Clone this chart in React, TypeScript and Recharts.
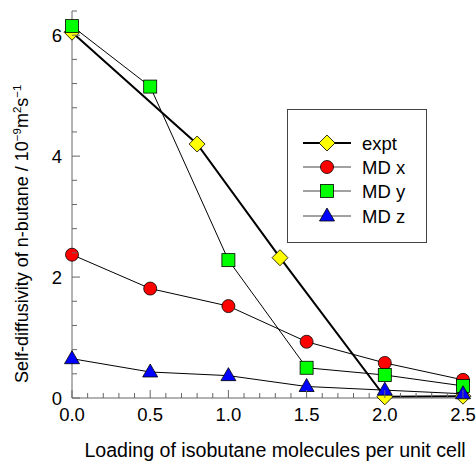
import { LineChart, Line, XAxis, YAxis, Legend, Label } from 'recharts';

// loading (molecules per unit cell) and self-diffusivities (1e-9 m2/s)
const LOADING_MD = [0, 0.5, 1.0, 1.5, 2.0, 2.5];
const MD_X = [2.37, 1.81, 1.52, 0.93, 0.58, 0.3];
const MD_Y = [6.15, 5.15, 2.28, 0.5, 0.38, 0.2];
const MD_Z = [0.65, 0.43, 0.37, 0.19, 0.13, 0.07];
const LOADING_EXPT = [0, 0.8, 1.33, 2.0, 2.5];
const EXPT = [6.05, 4.2, 2.32, 0.02, 0.03];

const X_TICKS = [0, 0.1, 0.2, 0.3, 0.4, 0.5, 0.6, 0.7, 0.8, 0.9, 1.0, 1.1, 1.2, 1.3, 1.4, 1.5, 1.6, 1.7, 1.8, 1.9, 2.0, 2.1, 2.2, 2.3, 2.4, 2.5];
const X_MAJOR = [0, 0.5, 1.0, 1.5, 2.0, 2.5];
const Y_TICKS = [0, 0.4, 0.8, 1.2, 1.6, 2.0, 2.4, 2.8, 3.2, 3.6, 4.0, 4.4, 4.8, 5.2, 5.6, 6.0, 6.4];
const Y_MAJOR = [0, 2, 4, 6];

const FONT = '"Liberation Sans", Arial, sans-serif';
const AXIS = '#666';

const toRows = (xs: number[], ys: number[]) => xs.map((x, i) => ({ x, y: ys[i] }));

const isMajor = (v: number, majors: number[]) => majors.some((m) => Math.abs(m - v) < 1e-6);

function XTick({ x, y, payload }: any) {
  const major = isMajor(payload.value, X_MAJOR);
  return (
    <g>
      <line x1={x} x2={x} y1={y} y2={y - (major ? 8 : 5)} stroke={AXIS} strokeWidth={1} />
      {major && (
        <text x={x} y={y + 23} textAnchor="middle" fontSize={18.5} fontFamily={FONT} fill="#000">
          {payload.value.toFixed(1)}
        </text>
      )}
    </g>
  );
}

function YTick({ x, y, payload }: any) {
  const major = isMajor(payload.value, Y_MAJOR);
  return (
    <g>
      <line x1={x} x2={x + (major ? 8 : 5)} y1={y} y2={y} stroke={AXIS} strokeWidth={1} />
      {major && (
        <text x={x - 10} y={y + 7} textAnchor="end" fontSize={18.5} fontFamily={FONT} fill="#000">
          {payload.value}
        </text>
      )}
    </g>
  );
}

function Diamond({ cx, cy }: any) {
  const r = 8;
  return (
    <path
      d={`M${cx},${cy - r}L${cx + r},${cy}L${cx},${cy + r}L${cx - r},${cy}Z`}
      fill="#ffff00"
      stroke="#000"
      strokeWidth={0.8}
    />
  );
}

function Circle({ cx, cy }: any) {
  return <circle cx={cx} cy={cy} r={6.5} fill="#ff0000" stroke="#000" strokeWidth={0.8} />;
}

function Square({ cx, cy }: any) {
  const s = 6.5;
  return <rect x={cx - s} y={cy - s} width={2 * s} height={2 * s} fill="#00ff00" stroke="#000" strokeWidth={0.8} />;
}

function Triangle({ cx, cy }: any) {
  return (
    <path
      d={`M${cx},${cy - 8}L${cx + 7.5},${cy + 5}L${cx - 7.5},${cy + 5}Z`}
      fill="#0000ff"
      stroke="#000"
      strokeWidth={0.8}
    />
  );
}

const SERIES = [
  { name: 'expt', Mark: Diamond, width: 2, color: '#000' },
  { name: 'MD x', Mark: Circle, width: 1, color: '#444' },
  { name: 'MD y', Mark: Square, width: 1, color: '#444' },
  { name: 'MD z', Mark: Triangle, width: 1, color: '#444' },
];

function LegendBox() {
  const rows = [33, 57, 81, 106];
  return (
    <div style={{ width: 140, height: 134, border: '1px solid #444', background: '#fff', boxSizing: 'border-box' }}>
      <svg width={138} height={132}>
        {SERIES.map((s, i) => (
          <g key={s.name}>
            <line x1={15} x2={63} y1={rows[i]} y2={rows[i]} stroke={s.color} strokeWidth={s.width} />
            <s.Mark cx={39} cy={rows[i]} />
            <text x={74} y={rows[i] + 7} fontSize={18.5} fontFamily={FONT} fill="#000">
              {s.name}
            </text>
          </g>
        ))}
      </svg>
    </div>
  );
}

const dotOf = (Mark: any) => (p: any) => <Mark key={`d-${p.index}`} cx={p.cx} cy={p.cy} />;

export default function App() {
  return (
    <div style={{ position: 'absolute', left: 0, top: 0, background: '#fff' }}>
      <LineChart width={476} height={463} margin={{ top: 11, right: 13, left: 0, bottom: 0 }}>
        <XAxis
          type="number"
          dataKey="x"
          domain={[0, 2.5]}
          ticks={X_TICKS}
          interval={0}
          height={65}
          tickSize={0}
          tickMargin={0}
          tickLine={false}
          tick={<XTick />}
          stroke={AXIS}
          allowDuplicatedCategory={false}
        >
          <Label
            content={() => (
              <text x={275} y={457} textAnchor="middle" fontSize={19.6} fontFamily={FONT} fill="#000">
                Loading of isobutane molecules per unit cell
              </text>
            )}
          />
        </XAxis>
        <YAxis
          type="number"
          domain={[0, 6.4]}
          ticks={Y_TICKS}
          interval={0}
          width={72}
          tickSize={0}
          tickMargin={0}
          tickLine={false}
          tick={<YTick />}
          stroke={AXIS}
        >
          <Label
            content={() => (
              <text
                transform="translate(28,383) rotate(-90)"
                textAnchor="start"
                fontSize={18}
                fontFamily={FONT}
                fill="#000"
              >
                Self-diffusivity of n-butane / 10
                <tspan dy={-7} fontSize={11.5}>−9</tspan>
                <tspan dy={7}>m</tspan>
                <tspan dy={-7} fontSize={11.5}>2</tspan>
                <tspan dy={7}>s</tspan>
                <tspan dy={-7} fontSize={11.5}>−1</tspan>
              </text>
            )}
          />
        </YAxis>
        <Legend
          layout="vertical"
          align="center"
          verticalAlign="middle"
          content={() => <LegendBox />}
          wrapperStyle={{ left: 287, top: 109, width: 140, height: 134 }}
        />
        <Line
          data={toRows(LOADING_EXPT, EXPT)}
          dataKey="y"
          name="expt"
          stroke="#000"
          strokeWidth={2}
          dot={dotOf(Diamond)}
          activeDot={false}
          isAnimationActive={false}
        />
        <Line
          data={toRows(LOADING_MD, MD_X)}
          dataKey="y"
          name="MD x"
          stroke="#000"
          strokeWidth={1}
          dot={dotOf(Circle)}
          activeDot={false}
          isAnimationActive={false}
        />
        <Line
          data={toRows(LOADING_MD, MD_Y)}
          dataKey="y"
          name="MD y"
          stroke="#000"
          strokeWidth={1}
          dot={dotOf(Square)}
          activeDot={false}
          isAnimationActive={false}
        />
        <Line
          data={toRows(LOADING_MD, MD_Z)}
          dataKey="y"
          name="MD z"
          stroke="#000"
          strokeWidth={1}
          dot={dotOf(Triangle)}
          activeDot={false}
          isAnimationActive={false}
        />
      </LineChart>
    </div>
  );
}
